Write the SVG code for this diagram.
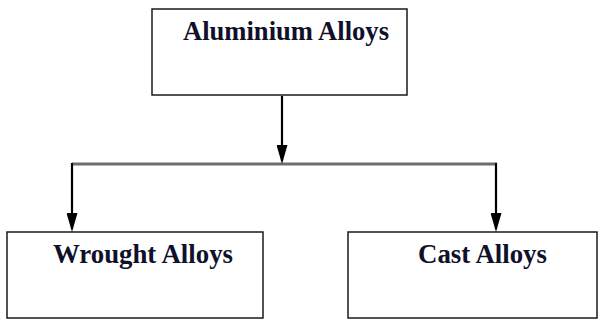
<svg xmlns="http://www.w3.org/2000/svg" width="600" height="320" viewBox="0 0 600 320">
  <defs>
    <style>
      .box { fill: #ffffff; stroke: #1a1a1a; stroke-width: 1.5; }
      .lbl { font-family: "Liberation Serif", "Times New Roman", serif; font-weight: bold; font-size: 27px; fill: #10102a; }
      .conn { stroke: #000000; stroke-width: 2.2; fill: none; marker-end: url(#arrow); }
      .bar { stroke: #6e6e6e; stroke-width: 3; fill: none; }
    </style>
    <marker id="arrow" markerUnits="userSpaceOnUse" markerWidth="20" markerHeight="11" refX="16" refY="5.5" orient="auto" viewBox="0 0 20 11">
      <path d="M0,0 L19,5.5 L0,11 Z" fill="#000000"/>
    </marker>
  </defs>
  <rect width="600" height="320" fill="#ffffff"/>

  <g id="connectors">
    <line class="bar" x1="72" y1="164" x2="497" y2="164"/>
    <line class="conn" x1="282" y1="96" x2="282" y2="161"/>
    <line class="conn" x1="72" y1="163" x2="72" y2="229"/>
    <line class="conn" x1="496" y1="163" x2="496" y2="229"/>
  </g>

  <g id="node-aluminium">
    <rect class="box" x="152" y="9" width="255" height="86"/>
    <text class="lbl" x="183" y="40" textLength="206" lengthAdjust="spacingAndGlyphs">Aluminium Alloys</text>
  </g>

  <g id="node-wrought">
    <rect class="box" x="7" y="232" width="256" height="86"/>
    <text class="lbl" x="53" y="263" textLength="180" lengthAdjust="spacingAndGlyphs">Wrought Alloys</text>
  </g>

  <g id="node-cast">
    <rect class="box" x="348" y="232" width="249" height="86"/>
    <text class="lbl" x="418" y="263" textLength="129" lengthAdjust="spacingAndGlyphs">Cast Alloys</text>
  </g>
</svg>
